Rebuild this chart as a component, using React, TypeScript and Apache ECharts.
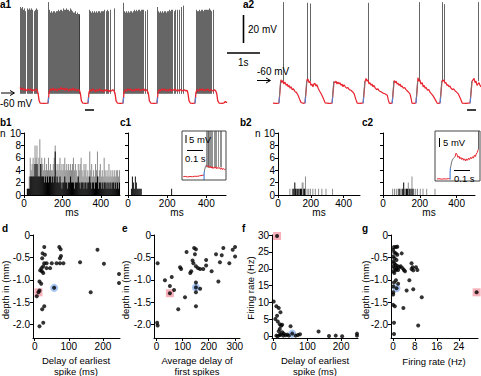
import React, { useEffect, useRef } from "react";
import * as echarts from "echarts";

const FONT = '"Liberation Sans", Arial, Helvetica, sans-serif';
const RED = "#e8232d";
const BLUE = "#4f86d8";
const PINK = "rgba(236,92,112,0.6)";
const LBLUE = "rgba(70,130,225,0.6)";

// ---------------- a1 : burst recording (t in s, V in mV) ----------------
const a1Membrane: number[][] = [
  [0.0, -56.5], [0.04, -58], [0.08, -57], [0.12, -58.5], [0.16, -57.5], [0.2, -59], [0.24, -57.5], [0.28, -58.5], [0.32, -57.5], [0.36, -59], [0.4, -58], [0.44, -59], [0.48, -57.5], [0.52, -58.5], [0.55, -61], [0.58, -66], [0.61, -67.6], [0.72, -67.8], [0.85, -67.6],
  [0.88, -60], [0.92, -57.5], [0.96, -58.5], [1.0, -57], [1.04, -58.5], [1.08, -57.5], [1.12, -59], [1.16, -57.5], [1.2, -58], [1.24, -56.5], [1.28, -58], [1.32, -57], [1.36, -58.5], [1.4, -57], [1.44, -58], [1.48, -59], [1.52, -57.5], [1.56, -58.5], [1.6, -57], [1.64, -58.5], [1.68, -57.5], [1.72, -59], [1.76, -58], [1.8, -58.5], [1.83, -61], [1.86, -66], [1.9, -67.6], [1.98, -67.8], [2.06, -67.6],
  [2.09, -60], [2.13, -58], [2.17, -59], [2.21, -57.5], [2.25, -58.5], [2.29, -59.5], [2.33, -58], [2.37, -59], [2.41, -57.5], [2.45, -59], [2.49, -58.5], [2.53, -59.5], [2.57, -58], [2.61, -59], [2.65, -58], [2.69, -59.5], [2.73, -58.5], [2.77, -59], [2.81, -58], [2.85, -59], [2.88, -61], [2.91, -66], [2.95, -67.6], [3.04, -67.8], [3.12, -67.6],
  [3.15, -60], [3.19, -58], [3.23, -59], [3.27, -57.5], [3.31, -58.5], [3.35, -57.5], [3.39, -59], [3.43, -58], [3.47, -59], [3.51, -57.5], [3.55, -58.5], [3.59, -57.5], [3.63, -59], [3.67, -58], [3.71, -58.5], [3.75, -57.5], [3.79, -59], [3.83, -58], [3.86, -59], [3.89, -61], [3.92, -66], [3.96, -67.6], [4.06, -67.8], [4.15, -67.6],
  [4.18, -60], [4.22, -58], [4.26, -59], [4.3, -57.5], [4.34, -58.5], [4.38, -57.5], [4.42, -59], [4.46, -58], [4.5, -59], [4.54, -57.5], [4.58, -59], [4.62, -58], [4.66, -58.5], [4.7, -57.5], [4.74, -59], [4.78, -58], [4.82, -59], [4.86, -58], [4.9, -58.5], [4.94, -59], [4.98, -58], [5.02, -59], [5.06, -58.5], [5.09, -61], [5.12, -66], [5.16, -67.6], [5.24, -67.8], [5.3, -67.6],
  [5.33, -60], [5.37, -58], [5.41, -59], [5.45, -57.5], [5.49, -58.5], [5.53, -57.5], [5.57, -59], [5.61, -58], [5.65, -58.5], [5.69, -57.5], [5.73, -59], [5.77, -58], [5.81, -58.5], [5.85, -59], [5.89, -58], [5.93, -59], [5.96, -61], [5.99, -66], [6.03, -67.6], [6.12, -67.8], [6.18, -67.4], [6.22, -66.5], [6.25, -67.2], [6.27, -66.8],
];
const a1Onsets = [0.85, 2.06, 3.12, 4.15, 5.3];
const a1SpikeBase = -61;
const a1Spikes: number[][] = [
  [0.0, 1], [0.03, 0], [0.06, 1], [0.1, -1], [0.14, 0], [0.17, -2], [0.21, 0], [0.24, -1], [0.28, 0], [0.31, -1], [0.35, 0], [0.38, -1], [0.42, -2], [0.45, -1], [0.49, 0], [0.52, -1],
  [0.85, 4.5], [0.88, -1], [0.91, -3], [0.94, -2], [0.97, -3], [1.0, -2], [1.03, -2], [1.06, -3], [1.09, -2], [1.12, -2], [1.15, -1], [1.18, -2], [1.21, -1], [1.24, -1], [1.27, -2], [1.3, 0], [1.33, -1], [1.36, -1], [1.39, 0], [1.42, -1], [1.45, -1], [1.48, -2], [1.51, 0], [1.54, -1], [1.57, -2], [1.6, -3], [1.63, -3], [1.66, -2], [1.69, -4], [1.72, -3], [1.75, -4], [1.78, -4], [1.8, -5],
  [2.09, -1], [2.12, -2], [2.15, -3], [2.18, -2], [2.21, -3], [2.24, -2], [2.27, -3], [2.3, -2], [2.33, -3], [2.37, -2], [2.4, -2], [2.43, -3], [2.46, -2], [2.5, -2], [2.53, -2], [2.56, -1], [2.6, -2], [2.63, -1], [2.67, -2], [2.72, -1], [2.85, 0],
  [3.12, 4], [3.15, -2], [3.18, -3], [3.21, -2], [3.24, -3], [3.27, -2], [3.3, -3], [3.33, -2], [3.36, -2], [3.39, -3], [3.42, -2], [3.45, -1], [3.48, -2], [3.51, -1], [3.54, -2], [3.57, -1], [3.6, -1], [3.63, -2], [3.66, -1], [3.7, -1], [3.74, -1], [3.79, -2], [3.84, -1],
  [4.15, 1], [4.18, -2], [4.21, -3], [4.24, -2], [4.27, -3], [4.3, -2], [4.33, -3], [4.36, -2], [4.39, -2], [4.42, -3], [4.45, -2], [4.48, -2], [4.52, -1], [4.55, -2], [4.58, -1], [4.62, -1], [4.66, -2], [4.7, -1], [4.76, -1], [4.82, -1], [4.88, 1], [4.94, 2],
  [5.33, -1], [5.36, -2], [5.39, -2], [5.42, -1], [5.45, -2], [5.48, -1], [5.52, -1], [5.55, -2], [5.58, -1], [5.61, -1], [5.64, -1], [5.67, -1], [5.7, -1], [5.73, 0], [5.76, -1], [5.8, -2], [5.85, -1],
];

// ---------------- a2 : sparse-firing recording ----------------
const a2Membrane: number[][] = [
  [0.09, -67.6], [0.18, -67.8], [0.27, -67.6], [0.3, -60], [0.33, -51], [0.36, -53], [0.39, -51.5], [0.42, -54], [0.45, -52.5], [0.49, -55], [0.52, -54], [0.55, -56], [0.58, -55], [0.61, -57], [0.64, -56], [0.67, -58], [0.71, -57.5], [0.76, -59.5], [0.8, -60], [0.85, -62], [0.9, -65], [0.94, -67.2], [1.0, -67.8], [1.06, -67.5],
  [1.09, -60], [1.12, -51], [1.15, -50.5], [1.18, -53], [1.21, -52], [1.24, -55], [1.27, -54], [1.3, -56], [1.33, -54], [1.36, -53.5], [1.39, -55.5], [1.42, -54.5], [1.46, -57], [1.5, -59], [1.55, -61], [1.61, -64], [1.67, -67.5], [1.78, -67.8], [1.88, -67.6],
  [1.91, -60], [1.94, -52.5], [1.97, -53], [2.0, -52], [2.03, -54], [2.06, -52.5], [2.09, -54], [2.12, -53], [2.15, -55], [2.18, -54], [2.21, -56], [2.24, -54.5], [2.28, -56], [2.32, -57], [2.36, -56.5], [2.4, -58], [2.45, -58.5], [2.5, -59.5], [2.55, -61], [2.6, -65], [2.64, -67.6], [2.73, -67.8], [2.82, -67.5],
  [2.85, -60], [2.88, -52], [2.91, -50], [2.94, -52], [2.97, -51], [3.0, -54], [3.03, -53], [3.06, -55], [3.09, -54], [3.12, -56], [3.15, -55], [3.19, -57], [3.23, -58], [3.27, -57.5], [3.31, -59], [3.36, -59.5], [3.42, -60.5], [3.48, -61], [3.55, -62], [3.58, -65], [3.61, -67.6], [3.66, -67.8], [3.7, -67.5],
  [3.73, -60], [3.76, -51.5], [3.79, -53], [3.82, -52], [3.85, -54], [3.88, -53.5], [3.91, -55], [3.94, -54], [3.97, -56], [4.0, -55.5], [4.04, -57], [4.08, -56.5], [4.12, -58], [4.16, -59], [4.2, -60], [4.24, -61], [4.27, -64], [4.3, -67.6], [4.36, -67.8], [4.42, -67.5],
  [4.45, -60], [4.48, -49.5], [4.51, -52], [4.54, -51], [4.57, -54], [4.61, -53], [4.64, -56], [4.67, -55], [4.7, -57], [4.73, -56.5], [4.77, -58.5], [4.81, -58], [4.85, -60], [4.89, -61], [4.94, -62.5], [5.0, -65], [5.06, -67.6], [5.11, -67.8], [5.15, -67.5],
  [5.18, -60], [5.21, -51.5], [5.24, -52], [5.27, -51], [5.3, -53.5], [5.33, -53], [5.36, -55], [5.39, -54.5], [5.42, -56], [5.45, -55.5], [5.48, -57], [5.52, -58], [5.56, -57.5], [5.61, -59], [5.66, -60], [5.7, -61], [5.76, -64], [5.82, -67.6], [5.94, -67.8], [6.06, -67.5],
  [6.09, -60], [6.12, -52], [6.15, -51], [6.18, -50], [6.21, -53], [6.24, -52], [6.27, -55], [6.3, -54], [6.33, -53], [6.36, -55], [6.39, -56],
];
const a2Onsets = [0.27, 1.06, 1.88, 2.82, 3.7, 4.42, 5.15, 6.06];
const a2SpikeBase = -52;
const a2Spikes: number[][] = [[0.39, 4.5], [1.12, 4], [1.21, 3.5], [2.97, 4], [4.52, 4.5], [5.21, 4.5], [5.27, 3], [6.3, 4.5]];

// ---------------- histograms (5 ms bins, n per bin) ----------------
const HIST_BIN = 5;
const b1Gray = [
  0, 0, 0, 1, 1, 3, 6, 4, 5, 6, 5, 8, 6, 8, 5, 6, 9, 5, 6, 5,
  4, 6, 4, 5, 4, 6, 4, 5, 4, 4, 5, 6, 8, 4, 5, 4, 5, 6, 4, 5,
  4, 5, 6, 4, 5, 4, 5, 4, 5, 4, 5, 6, 4, 5, 4, 3, 5, 4, 5, 6,
  4, 3, 5, 4, 5, 3, 4, 3, 7, 4, 5, 3, 4, 3, 5, 4, 7, 3, 4, 5,
  3, 4, 3, 6, 4, 3, 4, 3, 5, 3, 4, 3, 4, 3, 4, 3, 4, 4, 3, 4,
];
const b1Black = [
  0, 0, 0, 1, 1, 1, 3, 3, 3, 3, 3, 5, 3, 5, 3, 3, 3, 5, 3, 3,
  3, 2, 3, 2, 3, 2, 3, 3, 2, 3, 2, 3, 7, 2, 3, 2, 2, 3, 2, 1,
  2, 2, 3, 2, 2, 1, 2, 2, 3, 2, 2, 2, 1, 2, 2, 2, 3, 2, 1, 2,
  2, 2, 1, 2, 2, 1, 2, 2, 3, 2, 1, 2, 2, 1, 2, 2, 3, 1, 2, 2,
  1, 2, 1, 2, 2, 1, 2, 1, 2, 1, 2, 1, 2, 2, 1, 2, 1, 2, 1, 2,
];
// [bin start ms, n]
const c1Bins: number[][] = [[15, 1], [20, 3], [25, 2], [30, 1], [35, 3], [40, 2], [45, 1], [50, 1], [55, 1], [60, 1], [65, 1], [220, 1]];
const b2GrayBins: number[][] = [[70, 1], [85, 1], [95, 1], [110, 1], [120, 1], [130, 1], [145, 2], [150, 2], [165, 3], [175, 1], [185, 1], [195, 1], [210, 1], [225, 1], [245, 1], [265, 1], [290, 1], [330, 1]];
const b2BlackBins: number[][] = [[90, 1], [100, 2], [105, 1], [115, 1], [125, 1], [135, 1], [140, 1], [155, 1], [160, 1]];
const c2GrayBins: number[][] = [[50, 1], [60, 1], [70, 1], [80, 1], [90, 1], [95, 1], [100, 1], [115, 1], [120, 1], [135, 2], [145, 1], [155, 3], [165, 1], [175, 1], [185, 1], [200, 1], [215, 1], [235, 1], [280, 1]];
const c2BlackBins: number[][] = [[85, 1], [105, 1], [110, 2], [125, 1], [130, 1], [140, 1], [150, 1], [160, 1]];
const HIST_X_TICKS = [0, 200, 400];

// ---------------- insets (ms, mV relative) ----------------
const c1InsetRed: number[][] = [[8, -0.6], [20, -0.4], [35, -0.8], [50, -0.5], [65, -0.7], [80, -0.3], [95, -0.4], [110, 0], [125, 0.3], [138, 0.6]];
const c1InsetRed2: number[][] = [[152, 7.7], [158, 6.5], [164, 7.2], [170, 5.8], [176, 6.8], [182, 5.5], [188, 6.5], [194, 5.2], [200, 6.2], [206, 5.4], [212, 6.4], [218, 5], [224, 6], [230, 5.2], [236, 5.8], [242, 4.6], [248, 5.6], [254, 4.4], [260, 5.2], [266, 4.4], [272, 4.8]];
const c1InsetBlue: number[][] = [[138, -3], [138, 1], [140, 3.4]];
const c1InsetRise: number[][] = [[140, 3.4], [146, 6.5], [152, 7.7]];
const c1InsetSpikes = [150, 156, 161, 166, 172, 178, 185, 192, 200, 208, 217, 226, 236, 248];
const c2InsetRed: number[][] = [[12, -1.6], [25, -1.4], [40, -1.7], [55, -1.5], [70, -1.6], [85, -1.3], [94, -1.5]];
const c2InsetRed2: number[][] = [[125, 14], [131, 16.5], [137, 15.5], [143, 13.5], [149, 14.5], [155, 12.5], [161, 13.5], [167, 12], [173, 13], [179, 11.5], [185, 12.5], [191, 11], [197, 12.5], [203, 11.5], [209, 13], [215, 12], [221, 13.5], [227, 12.5], [233, 14], [239, 13], [245, 15], [251, 14], [257, 16], [263, 17], [269, 19]];
const c2InsetBlue: number[][] = [[94, -2], [94, 3], [96, 6]];
const c2InsetRise: number[][] = [[96, 6], [105, 11], [115, 13], [125, 14]];
const c2InsetSpikes = [272];

// ---------------- scatter panels ----------------
// d: delay of earliest spike (ms) vs depth (mm)
const dPoints: number[][] = [
  [28, -0.27], [23, -0.41], [30, -0.44], [22, -0.52], [28, -0.63], [25, -0.7], [20, -0.74], [16, -0.79], [21, -0.81], [25, -0.85], [35, -0.74], [45, -0.74], [35, -0.63], [50, -0.63], [64, -0.63], [74, -0.52], [74, -0.63], [72, -0.27], [76, -0.32], [77, -0.47], [84, -0.63], [133, -0.61], [184, -0.33], [203, -0.64], [164, -1.28], [247, -0.87], [247, -1.07], [14, -1.04], [19, -1.09], [14, -1.24], [6, -1.37], [28, -1.59], [22, -1.66], [25, -1.96], [14, -2.04],
];
const dRed: number[][] = [[11, -1.28]];
const dBlue: number[][] = [[57, -1.18]];
// e: average delay of first spikes (ms) vs depth (mm)
const ePoints: number[][] = [
  [4, -0.63], [115, -0.38], [144, -0.29], [151, -0.32], [147, -0.43], [138, -0.57], [141, -0.63], [151, -0.7], [159, -0.74], [133, -0.81], [129, -0.85], [167, -0.76], [179, -0.76], [190, -0.68], [190, -0.56], [211, -0.81], [228, -0.43], [250, -0.45], [256, -0.29], [243, -0.61], [279, -0.63], [292, -0.33], [301, -0.27], [301, -0.48], [90, -0.72], [94, -0.76], [237, -1.04], [32, -1.01], [58, -0.94], [51, -1.14], [67, -1.23], [109, -1.39], [83, -1.66], [151, -1.06], [151, -1.28], [167, -1.2], [151, -1.59], [2, -1.96], [4, -2.02],
];
const eRed: number[][] = [[51, -1.3]];
const eBlue: number[][] = [[151, -1.17]];
// f: delay of earliest spike (ms) vs firing rate (Hz)
const fPoints: number[][] = [
  [0, 10.3], [8, 8.9], [15, 8.4], [20, 7.1], [10, 6.1], [5, 5.1], [12, 4.4], [18, 3.6], [22, 3.1], [25, 3.4], [50, 3.0], [18, 2.2], [15, 1.5], [25, 1.2], [30, 0.8], [20, 0.5], [35, 0.3], [40, 0.5], [45, 0.2], [65, 0.2], [72, 0.4], [78, 0.6], [133, 1.4], [164, 0.1], [184, 0.2], [203, 0.0], [247, 0.8], [247, 0.2], [8, 0.2], [12, 0.0], [18, 0.4], [28, 0.2],
];
const fRed: number[][] = [[10, 29.7]];
const fBlue: number[][] = [[55, 0.8]];
// g: firing rate (Hz) vs depth (mm)
const gPoints: number[][] = [
  [0.4, -0.27], [1.1, -0.27], [1.6, -0.26], [0.1, -0.33], [0.5, -0.39], [1.1, -0.41], [1.6, -0.44], [0.1, -0.48], [0.6, -0.52], [1.3, -0.56], [0.1, -0.59], [0.5, -0.63], [1.0, -0.67], [1.6, -0.69], [0.1, -0.7], [0.6, -0.74], [1.1, -0.78], [0.1, -0.81], [0.5, -0.85], [1.3, -0.76], [1.9, -0.78], [2.3, -0.72], [2.8, -0.7], [3.5, -0.74], [3.2, -0.41], [4.0, -0.78], [4.4, -0.81], [6.8, -0.63], [7.2, -0.72], [6.8, -0.76], [7.4, -0.79], [8.4, -0.72], [8.9, -0.78], [0.4, -1.06], [1.1, -1.01], [1.9, -1.09], [0.1, -1.15], [0.1, -1.28], [0.1, -1.33], [5.0, -1.24], [6.0, -1.01], [7.4, -1.21], [10.5, -1.39], [0.1, -1.56], [0.7, -1.59], [3.8, -1.63], [0.4, -1.96], [0.4, -2.21], [9.2, -2.02],
];
const gRed: number[][] = [[30.5, -1.28]];
const gBlue: number[][] = [[1.3, -1.19]];

const DEPTH_TICKS = [0, -0.5, -1, -1.5, -2];
const DELAY_TICKS = [0, 100, 200];
const AVG_TICKS = [0, 100, 200, 300];
const RATE_TICKS = [0, 5, 10, 15, 20, 25, 30];
const G_TICKS = [0, 8, 16, 24];

function buildOption() {
  const grid: any[] = [];
  const xAxis: any[] = [];
  const yAxis: any[] = [];
  const series: any[] = [];
  const graphic: any[] = [];

  const addPanel = (box: number[], x: any, y: any) => {
    const i = grid.length;
    grid.push({ left: box[0], top: box[1], width: box[2], height: box[3], show: false, containLabel: false });
    xAxis.push({ gridIndex: i, ...x });
    yAxis.push({ gridIndex: i, ...y });
    return i;
  };
  const hidden = (min: number, max: number) => ({ type: "value", min, max, show: false, splitLine: { show: false } });
  const shown = (min: number, max: number, ticks: number[], opts: any = {}) => {
    const label: any = {
      show: opts.labels !== false, customValues: ticks, color: "#000", fontSize: 10, fontFamily: FONT, margin: 3,
    };
    if (opts.formatter) label.formatter = opts.formatter;
    return {
      type: "value", min, max,
      axisLine: { show: true, onZero: false, lineStyle: { color: "#000", width: 1 } },
      axisTick: { show: true, length: 3, customValues: ticks, lineStyle: { color: "#000", width: 1 } },
      axisLabel: label,
      splitLine: { show: false },
    };
  };
  const ax = (i: number) => ({ xAxisIndex: i, yAxisIndex: i, silent: true });
  const lineS = (i: number, data: number[][], color: string, width: number, z = 3) => ({
    type: "line", ...ax(i), data, showSymbol: false, symbol: "none", lineStyle: { color, width }, z,
  });
  const segS = (i: number, segs: number[][][], color: string, width: number, opacity = 1, z = 2) => ({
    type: "lines", coordinateSystem: "cartesian2d", ...ax(i), data: segs.map((c) => ({ coords: c })), lineStyle: { color, width, opacity, curveness: 0 }, z,
  });

  // ---- a1
  const A1 = addPanel([20, 0, 208, 112], hidden(0, 6.3), hidden(-74, 6));
  series.push(segS(A1, a1Spikes.map(([t, p]) => [[t, a1SpikeBase], [t, p]]), "#2a2a2a", 0.8, 0.9, 2));
  series.push(lineS(A1, a1Membrane, RED, 1.3, 3));
  series.push(segS(A1, a1Onsets.map((t) => [[t, -67.8], [t + 0.02, -63.5]]), BLUE, 1.2, 1, 4));

  // ---- a2
  const A2 = addPanel([270, 0, 211, 112], hidden(0, 6.39), hidden(-74, 6));
  series.push(segS(A2, a2Spikes.map(([t, p]) => [[t, a2SpikeBase], [t, p]]), "#555", 0.9, 1, 2));
  series.push(lineS(A2, a2Membrane, RED, 1.2, 3));
  series.push(segS(A2, a2Onsets.map((t) => [[t + 0.015, -63.5], [t + 0.05, -52]]), "#777", 1, 1, 4));
  series.push(segS(A2, a2Onsets.map((t) => [[t, -67.8], [t + 0.015, -63.5]]), BLUE, 1.2, 1, 5));

  // ---- histograms
  const histY = (labels: boolean) => shown(0, 10, [0, 2, 4, 6, 8, 10], { labels });
  const barS = (i: number, data: number[][], color: string, overlay: boolean) => {
    const s: any = { type: "bar", ...ax(i), data, barWidth: 1, itemStyle: { color }, z: 2 };
    if (overlay) s.barGap = "-100%";
    return s;
  };
  const B1 = addPanel([24, 133, 96, 62], shown(0, 500, HIST_X_TICKS), histY(true));
  series.push(barS(B1, b1Gray.map((v, i) => [i * HIST_BIN + HIST_BIN / 2, v]), "#8c8c8c", false));
  series.push(barS(B1, b1Black.map((v, i) => [i * HIST_BIN + HIST_BIN / 2, v]), "#000", true));

  const C1 = addPanel([128, 133, 98, 62], shown(0, 500, HIST_X_TICKS), histY(false));
  series.push(barS(C1, c1Bins.map(([s, n]) => [s + HIST_BIN / 2, n]), "#111", false));

  const C1I = addPanel([182, 131, 44, 49], hidden(0, 275), hidden(-3, 32));
  series.push(segS(C1I, c1InsetSpikes.map((t) => [[t, 6], [t, 32]]), "#555", 0.8, 0.8, 2));
  series.push(lineS(C1I, c1InsetRed, RED, 1, 3));
  series.push(lineS(C1I, c1InsetRed2, RED, 1, 3));
  series.push(lineS(C1I, c1InsetRise, "#777", 1, 3));
  series.push(lineS(C1I, c1InsetBlue, BLUE, 1.2, 4));

  const B2 = addPanel([278, 133, 82, 62], shown(0, 500, HIST_X_TICKS), histY(true));
  series.push(barS(B2, b2GrayBins.map(([s, n]) => [s + HIST_BIN / 2, n]), "#8c8c8c", false));
  series.push(barS(B2, b2BlackBins.map(([s, n]) => [s + HIST_BIN / 2, n]), "#000", true));

  const C2 = addPanel([383, 133, 92, 62], shown(0, 500, HIST_X_TICKS), histY(false));
  series.push(barS(C2, c2GrayBins.map(([s, n]) => [s + HIST_BIN / 2, n]), "#8c8c8c", false));
  series.push(barS(C2, c2BlackBins.map(([s, n]) => [s + HIST_BIN / 2, n]), "#000", true));

  const C2I = addPanel([435, 131, 45, 50], hidden(0, 280), hidden(-3, 32));
  series.push(segS(C2I, c2InsetSpikes.map((t) => [[t, 19], [t, 32]]), "#555", 0.9, 1, 2));
  series.push(lineS(C2I, c2InsetRed, RED, 1, 3));
  series.push(lineS(C2I, c2InsetRed2, RED, 1, 3));
  series.push(lineS(C2I, c2InsetRise, "#777", 1, 3));
  series.push(lineS(C2I, c2InsetBlue, BLUE, 1.2, 4));

  // ---- scatter panels
  const depthFmt = (v: number) => (v === 0 ? "0" : v.toFixed(1));
  const depthY = () => shown(-2.3, 0, DEPTH_TICKS, { formatter: depthFmt });
  const scat = (i: number, pts: number[][], red: number[][], blue: number[][]) => {
    series.push({ type: "scatter", ...ax(i), data: red, symbol: "rect", symbolSize: 8, itemStyle: { color: PINK }, z: 2 });
    series.push({ type: "scatter", ...ax(i), data: blue, symbol: "circle", symbolSize: 8, itemStyle: { color: LBLUE }, z: 2 });
    series.push({ type: "scatter", ...ax(i), data: [...pts, ...red, ...blue], symbol: "circle", symbolSize: 4, itemStyle: { color: "#000" }, z: 3 });
  };
  const D = addPanel([33, 235, 87, 103], shown(-5, 250, DELAY_TICKS), depthY());
  scat(D, dPoints, dRed, dBlue);
  const E = addPanel([154, 235, 86, 103], shown(-10, 320, AVG_TICKS), depthY());
  scat(E, ePoints, eRed, eBlue);
  const F = addPanel([272, 235, 86, 103], shown(-5, 250, DELAY_TICKS), shown(-0.5, 30, RATE_TICKS));
  scat(F, fPoints, fRed, fBlue);
  const G = addPanel([391, 235, 87, 103], shown(-0.7, 31, G_TICKS), depthY());
  scat(G, gPoints, gRed, gBlue);

  // ---- annotations
  const txt = (text: string, x: number, y: number, o: any = {}) => ({
    type: "text", x, y, rotation: o.rot || 0, silent: true, z: 100,
    style: {
      text, fill: "#000",
      font: `${o.bold ? "bold " : ""}${o.size || 10}px ${FONT}`,
      textAlign: o.align || "left", align: o.align || "left",
      textVerticalAlign: "middle", verticalAlign: "middle",
    },
  });
  const ln = (x1: number, y1: number, x2: number, y2: number, w = 1, c = "#000") => ({
    type: "line", silent: true, z: 100, shape: { x1, y1, x2, y2 }, style: { stroke: c, lineWidth: w },
  });
  const arrow = (x: number, y: number) => [
    ln(x, y, x + 13, y, 1),
    { type: "polyline", silent: true, z: 100, shape: { points: [[x + 9, y - 2.5], [x + 13.5, y], [x + 9, y + 2.5]] }, style: { stroke: "#000", lineWidth: 1, fill: "none" } },
  ];

  graphic.push(
    txt("a1", 0, 4, { bold: true }),
    txt("a2", 243, 4, { bold: true }),
    ln(243.5, 15, 243.5, 43, 1.6),
    txt("20 mV", 248, 29),
    ln(227, 53, 260, 53, 1.6),
    txt("1s", 238, 62),
    txt("-60 mV", 0, 103.5),
    ...arrow(1, 93),
    txt("-60 mV", 257, 71),
    ...arrow(257, 80.5),
    ln(85, 110, 94, 110, 1.5),
    ln(467, 110, 476, 110, 1.5),

    txt("b1", 0, 122, { bold: true }),
    txt("c1", 120, 122, { bold: true }),
    txt("b2", 240, 122, { bold: true }),
    txt("c2", 362, 122, { bold: true }),
    txt("n", 0, 133.5),
    txt("n", 255, 133.5),
    txt("ms", 72, 212, { align: "center" }),
    txt("ms", 177, 212, { align: "center" }),
    txt("ms", 319, 212, { align: "center" }),
    txt("ms", 429, 212, { align: "center" }),

    { type: "rect", silent: true, z: 90, shape: { x: 182, y: 131, width: 44, height: 49 }, style: { fill: "none", stroke: "#444", lineWidth: 1 } },
    ln(186, 135, 186, 143, 1),
    txt("5 mV", 189, 139.5, { size: 9.5 }),
    ln(187, 150.5, 203, 150.5, 1),
    txt("0.1 s", 185, 158, { size: 9.5 }),
    { type: "rect", silent: true, z: 90, shape: { x: 435, y: 131, width: 45, height: 50 }, style: { fill: "none", stroke: "#444", lineWidth: 1 } },
    ln(439.5, 138, 439.5, 147, 1),
    txt("5 mV", 443, 142.5, { size: 9.5 }),
    ln(454, 170.5, 470, 170.5, 1),
    txt("0.1 s", 454, 178, { size: 9.5 }),

    txt("d", 2, 228, { bold: true }),
    txt("e", 122, 228, { bold: true }),
    txt("f", 242, 228, { bold: true }),
    txt("g", 362, 228, { bold: true }),
    txt("depth in (mm)", 5, 290, { rot: Math.PI / 2, align: "center", size: 9.5 }),
    txt("depth in (mm)", 125, 290, { rot: Math.PI / 2, align: "center", size: 9.5 }),
    txt("Firing rate (Hz)", 250, 288, { rot: Math.PI / 2, align: "center", size: 9.5 }),
    txt("depth in (mm)", 365, 290, { rot: Math.PI / 2, align: "center", size: 9.5 }),
    txt("Delay of earliest", 76, 360.5, { align: "center", size: 9.5 }),
    txt("spike (ms)", 76, 371, { align: "center", size: 9.5 }),
    txt("Average delay of", 197, 360.5, { align: "center", size: 9.5 }),
    txt("first spikes", 197, 371, { align: "center", size: 9.5 }),
    txt("Delay of earliest", 315, 360.5, { align: "center", size: 9.5 }),
    txt("spike (ms)", 315, 371, { align: "center", size: 9.5 }),
    txt("Firing rate (Hz)", 434, 361, { align: "center", size: 9.5 }),
  );

  return { animation: false, backgroundColor: "#fff", grid, xAxis, yAxis, series, graphic };
}

export default function App() {
  const ref = useRef<HTMLDivElement>(null);
  useEffect(() => {
    if (!ref.current) return;
    const chart = echarts.init(ref.current, null, { renderer: "svg", width: 481, height: 376 });
    chart.setOption(buildOption() as any);
    return () => chart.dispose();
  }, []);
  return <div ref={ref} style={{ position: "absolute", left: 0, top: 0, width: 481, height: 376, background: "#fff" }} />;
}
